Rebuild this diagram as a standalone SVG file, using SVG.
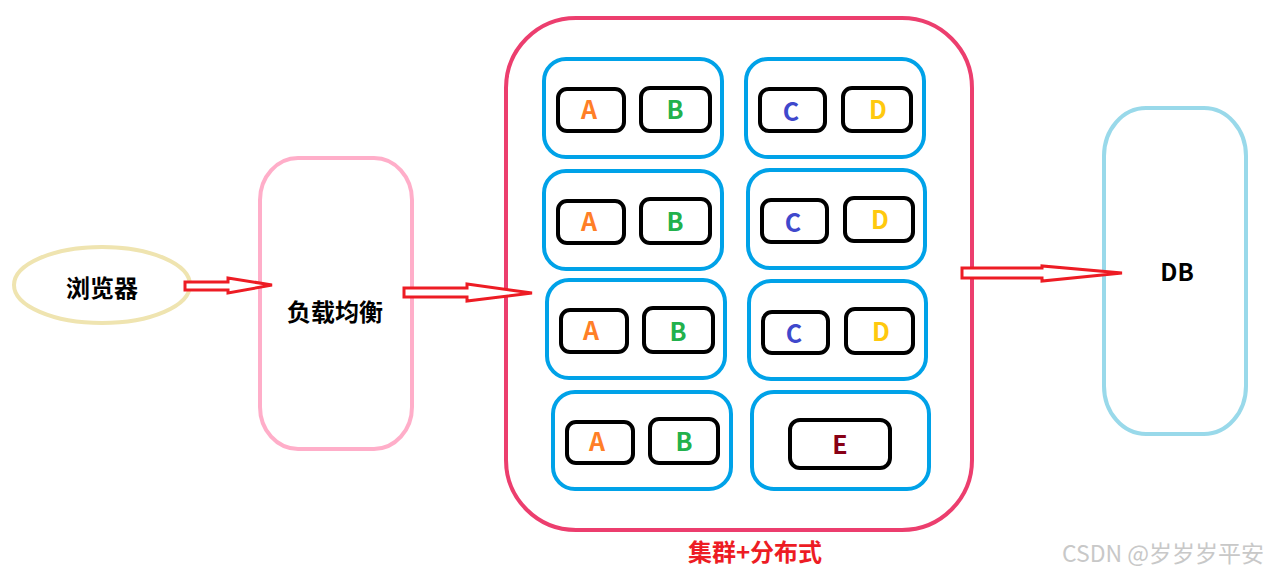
<svg xmlns="http://www.w3.org/2000/svg" width="1269" height="574" viewBox="0 0 1269 574">
<style>
text{font-family:"Noto Sans CJK SC","Noto Sans",sans-serif;font-weight:bold;text-anchor:middle;dominant-baseline:central}
.blue{fill:none;stroke:#00a2e8;stroke-width:4}
.blk{fill:none;stroke:#000;stroke-width:4}
.arrow{fill:#fff;stroke:#ed1c24;stroke-width:3;stroke-linejoin:miter}
.l{font-size:25px}
.A{fill:#ff7f27}.B{fill:#22b14c}.C{fill:#3f48cc}.D{fill:#ffc90e}.E{fill:#880015}
</style>
<rect width="1269" height="574" fill="#fff"/>
<g id="browser">
<ellipse cx="102" cy="285" rx="88" ry="38" fill="none" stroke="#efe4b0" stroke-width="4"/>
<text x="102" y="286" font-size="24" fill="#000">浏览器</text>
</g>
<g id="loadbalancer">
<rect x="260" y="158" width="152" height="291" rx="38" ry="42" fill="none" stroke="#ffaec9" stroke-width="4"/>
<text x="335" y="310" font-size="24" fill="#000">负载均衡</text>
</g>
<g id="cluster">
<rect x="506" y="18" width="466" height="512" rx="70" ry="70" fill="none" stroke="#ec3e6e" stroke-width="4"/>
<text x="755" y="550" font-size="24" fill="#ed1c24">集群+分布式</text>
</g>
<g id="group1">
<rect class="blue" x="544" y="59" width="178" height="98" rx="22"/>
<rect class="blk" x="558" y="89" width="66" height="42" rx="9"/><text class="l A" x="589" y="108">A</text>
<rect class="blk" x="641" y="88" width="69" height="43" rx="9"/><text class="l B" x="675" y="108">B</text>
</g>
<g id="group2">
<rect class="blue" x="746" y="59" width="178" height="98" rx="22"/>
<rect class="blk" x="760" y="89" width="65" height="42" rx="9"/><text class="l C" x="791" y="110">C</text>
<rect class="blk" x="843" y="88" width="68" height="43" rx="9"/><text class="l D" x="878" y="108">D</text>
</g>
<g id="group3">
<rect class="blue" x="544" y="171" width="178" height="98" rx="22"/>
<rect class="blk" x="558" y="201" width="66" height="42" rx="9"/><text class="l A" x="589" y="220">A</text>
<rect class="blk" x="641" y="199" width="69" height="44" rx="9"/><text class="l B" x="675" y="220">B</text>
</g>
<g id="group4">
<rect class="blue" x="748" y="170" width="177" height="98" rx="22"/>
<rect class="blk" x="762" y="200" width="65" height="42" rx="9"/><text class="l C" x="793" y="221">C</text>
<rect class="blk" x="845" y="198" width="68" height="43" rx="9"/><text class="l D" x="880" y="218">D</text>
</g>
<g id="group5">
<rect class="blue" x="547" y="280" width="178" height="98" rx="22"/>
<rect class="blk" x="561" y="310" width="66" height="42" rx="9"/><text class="l A" x="591" y="329">A</text>
<rect class="blk" x="644" y="308" width="69" height="44" rx="9"/><text class="l B" x="678" y="330">B</text>
</g>
<g id="group6">
<rect class="blue" x="749" y="281" width="177" height="98" rx="22"/>
<rect class="blk" x="763" y="312" width="65" height="41" rx="9"/><text class="l C" x="794" y="332">C</text>
<rect class="blk" x="846" y="309" width="67" height="44" rx="9"/><text class="l D" x="881" y="330">D</text>
</g>
<g id="group7">
<rect class="blue" x="553" y="392" width="178" height="97" rx="22"/>
<rect class="blk" x="567" y="422" width="66" height="41" rx="9"/><text class="l A" x="597" y="440">A</text>
<rect class="blk" x="650" y="419" width="68" height="44" rx="9"/><text class="l B" x="684" y="440">B</text>
</g>
<g id="group8">
<rect class="blue" x="752" y="392" width="177" height="97" rx="22"/>
<rect class="blk" x="790" y="420" width="100" height="48" rx="10"/><text class="l E" x="840" y="443">E</text>
</g>
<g id="db">
<rect x="1104" y="108" width="142" height="326" rx="42" ry="48" fill="none" stroke="#99d9ea" stroke-width="4"/>
<text x="1177" y="270" font-size="24" fill="#000">DB</text>
</g>
<g id="connectors">
<polygon class="arrow" points="185,282 228,282 228,278 272,285 228,293 228,290 185,290"/>
<polygon class="arrow" points="404,288 467,288 467,284 532,293 467,301 467,297 404,297"/>
<polygon class="arrow" points="962,268 1042,268 1042,266 1122,273 1042,281 1042,278 962,278"/>
</g>
<text x="1264" y="552" font-size="23" fill="#c8c8c8" style="font-weight:normal;text-anchor:end">CSDN @岁岁岁平安</text>
</svg>
